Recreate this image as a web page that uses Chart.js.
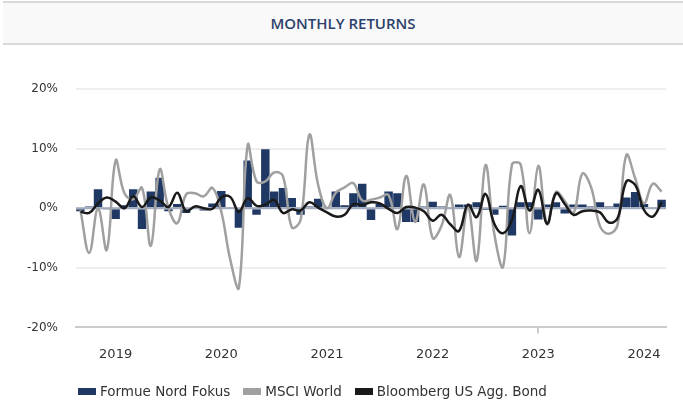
<!DOCTYPE html>
<html>
<head>
<meta charset="utf-8">
<script src="https://cdn.jsdelivr.net/npm/chart.js@4.4.1/dist/chart.umd.min.js"></script>
<style>
    body {
        margin: 0;
        width: 683px;
        height: 400px;
        background: #fff;
        position: relative;
        overflow: hidden;
        font-family: "DejaVu Sans", Verdana, sans-serif;
    }
    .header {
        position: absolute;
        left: 3px;
        right: 0;
        top: 1px;
        height: 40px;
        background: #f9f9f9;
        border-top: 2px solid #d9d9d9;
        border-bottom: 2px solid #d9d9d9;
        text-align: center;
        color: #2b416b;
        font: 600 15px "Open Sans", sans-serif;
        line-height: 40px;
    }
    .chart-box {
        position: absolute;
        left: 0;
        top: 45px;
        width: 683px;
        height: 341px;
    }
    .legend {
        position: absolute;
        left: 78px;
        top: 383px;
        font-size: 13.5px;
        color: #333;
        white-space: nowrap;
    }
    .legend .item {
        margin-right: 13px;
    }
    .legend i {
        display: inline-block;
        width: 18px;
        height: 7px;
        margin-right: 4px;
        vertical-align: 1px;
    }
</style>
</head>
<body>
<div class="header">MONTHLY RETURNS</div>
<div class="chart-box"><canvas id="returnsChart" width="683" height="341"></canvas></div>
<div class="legend" id="legend"></div>

<script>
// months shown on the x axis
const months = [
    'Sep 2018', 'Oct 2018', 'Nov 2018', 'Dec 2018',
    'Jan 2019', 'Feb 2019', 'Mar 2019', 'Apr 2019', 'May 2019', 'Jun 2019', 'Jul 2019', 'Aug 2019', 'Sep 2019', 'Oct 2019', 'Nov 2019', 'Dec 2019',
    'Jan 2020', 'Feb 2020', 'Mar 2020', 'Apr 2020', 'May 2020', 'Jun 2020', 'Jul 2020', 'Aug 2020', 'Sep 2020', 'Oct 2020', 'Nov 2020', 'Dec 2020',
    'Jan 2021', 'Feb 2021', 'Mar 2021', 'Apr 2021', 'May 2021', 'Jun 2021', 'Jul 2021', 'Aug 2021', 'Sep 2021', 'Oct 2021', 'Nov 2021', 'Dec 2021',
    'Jan 2022', 'Feb 2022', 'Mar 2022', 'Apr 2022', 'May 2022', 'Jun 2022', 'Jul 2022', 'Aug 2022', 'Sep 2022', 'Oct 2022', 'Nov 2022', 'Dec 2022',
    'Jan 2023', 'Feb 2023', 'Mar 2023', 'Apr 2023', 'May 2023', 'Jun 2023', 'Jul 2023', 'Aug 2023', 'Sep 2023', 'Oct 2023', 'Nov 2023', 'Dec 2023',
    'Jan 2024', 'Feb 2024', 'Mar 2024'
];

// monthly returns in %
const fundReturns = [
    -0.5, 0.3, 3.2, -0.2, -1.8, 0.5, 3.2, -3.5, 2.8, 5.1, -0.5, 0.7,
    -0.8, 0.2, -0.4, 0.8, 2.9, 0.1, -3.3, 8.0, -1.1, 9.9, 2.8, 3.4,
    1.7, -1.1, 0.3, 1.6, 0.2, 2.8, 0.5, 2.5, 4.1, -2.0, 0.7, 2.8,
    2.5, -2.3, -2.3, 0.3, 1.1, 0.3, 0.2, 0.6, 0.6, 1.0, -0.3, -1.1,
    0.4, -4.6, 1.0, 1.0, -1.9, 0.6, 1.0, -0.9, 0.6, 0.6, 0.3, 1.0,
    0.3, 0.8, 1.8, 2.7, 0.7, 0.1, 1.4
];

const msciWorld = [
    -0.3, -7.5, 0.0, -7.0, 8.0, 2.5, 1.5, 3.4, -6.3, 6.5, 0.0, -2.5,
    2.3, 2.5, 2.0, 3.4, -0.6, -8.5, -13.3, 10.6, 4.5, 4.5, 6.0, 5.4,
    -3.2, -2.0, 12.3, 3.9, 0.0, 2.6, 3.5, 4.2, 1.3, 1.4, 1.8, 2.2,
    -3.5, 5.4, -2.3, 4.0, -5.0, -3.0, 2.2, -8.2, 0.2, -8.8, 7.2, -4.3,
    -9.8, 7.3, 7.3, -4.2, 7.1, -2.7, 2.7, 1.2, -0.8, 5.8, 3.5, -3.0,
    -4.3, -2.8, 8.9, 5.0, 0.8, 4.1, 2.8
];

const bondIndex = [
    -0.6, -0.8, 0.8, 1.8, 1.1, 0.0, 2.0, 0.2, 1.8, 1.3, 0.2, 2.6,
    -0.5, 0.3, 0.0, -0.1, 1.8, 1.9, -0.6, 1.7, 0.4, 0.6, 1.4, -0.8,
    -0.2, -0.4, 1.0, 0.1, -0.7, -1.4, -1.1, 0.7, 0.5, 1.0, 0.8, -0.1,
    -0.8, 0.2, 0.1, -0.5, -2.1, -1.1, -2.7, -3.8, 0.6, -1.5, 2.4, -2.6,
    -4.2, -2.0, 3.7, -0.4, 3.1, -2.6, 2.5, 0.7, -1.1, -0.5, -0.4, -0.7,
    -2.4, -1.7, 4.5, 3.9, -0.3, -1.4, 1.0
];

const yTicks = [-20, -10, 0, 10, 20];

const seriesNames = ['Formue Nord Fokus', 'MSCI World', 'Bloomberg US Agg. Bond'];
const seriesColors = ['#1f3864', '#a0a0a0', '#1a1a1a'];

// zero line sits on top of the bars but under the lines
const zeroLine = {
    id: 'zeroLine',
    afterDatasetDraw(chart, args) {
        if (args.index !== 0) return;
        const y = chart.scales.y.getPixelForValue(0);
        const area = chart.chartArea;
        const c = chart.ctx;
        c.save();
        c.strokeStyle = '#a2abbd';
        c.lineWidth = 2;
        c.beginPath();
        c.moveTo(area.left, y);
        c.lineTo(area.right, y);
        c.stroke();
        c.restore();
    }
};

const ctx = document.getElementById('returnsChart').getContext('2d');
const myChart = new Chart(ctx, {
    type: 'bar',
    data: {
        labels: months,
        datasets: [{
                label: seriesNames[0],
                data: fundReturns,
                backgroundColor: seriesColors[0],
                barPercentage: 1,
                categoryPercentage: 0.96,
                order: 3
            },
            {
                type: 'line',
                label: seriesNames[1],
                data: msciWorld,
                borderColor: seriesColors[1],
                borderWidth: 2.5,
                pointRadius: 0,
                tension: 0.4,
                order: 2
            },
            {
                type: 'line',
                label: seriesNames[2],
                data: bondIndex,
                borderColor: seriesColors[2],
                borderWidth: 2.5,
                pointRadius: 0,
                tension: 0.4,
                order: 1
            }
        ]
    },
    options: {
        responsive: false,
        animation: false,
        layout: {
            padding: { left: 0, right: 17, top: 44, bottom: 11 }
        },
        plugins: {
            legend: { display: false },
            tooltip: { enabled: false }
        },
        scales: {
            x: {
                offset: true,
                grid: {
                    offset: false,
                    drawOnChartArea: false,
                    tickLength: 6,
                    lineWidth: 2,
                    color: c => (months[c.index] || '').startsWith('Jan') ? '#cccccc' : 'rgba(0,0,0,0)'
                },
                border: { color: '#cccccc', width: 2 },
                ticks: {
                    autoSkip: false,
                    maxRotation: 0,
                    padding: 13,
                    color: '#333',
                    font: { family: '"DejaVu Sans", Verdana, sans-serif', size: 13 },
                    callback: (val, i) => months[i].startsWith('Jan') ? months[i].slice(4) : null
                }
            },
            y: {
                min: yTicks[0],
                max: yTicks[yTicks.length - 1],
                afterFit: s => { s.width = 76 },
                afterBuildTicks: s => { s.ticks = yTicks.map(v => ({ value: v })) },
                grid: { color: '#eeeeee', lineWidth: 2, drawTicks: false },
                border: { display: false },
                ticks: {
                    padding: 18,
                    color: '#333',
                    font: { family: '"DejaVu Sans", Verdana, sans-serif', size: 12 },
                    callback: v => v + '%'
                }
            }
        }
    },
    plugins: [zeroLine]
});

// legend
let legendHtml = '';
for (let i = 0; i < seriesNames.length; i += 1) {
    legendHtml += '<span class="item"><i style="background:' + seriesColors[i] + '"></i>' + seriesNames[i] + '</span>';
}
document.getElementById('legend').innerHTML = legendHtml;
</script>
</body>
</html>
